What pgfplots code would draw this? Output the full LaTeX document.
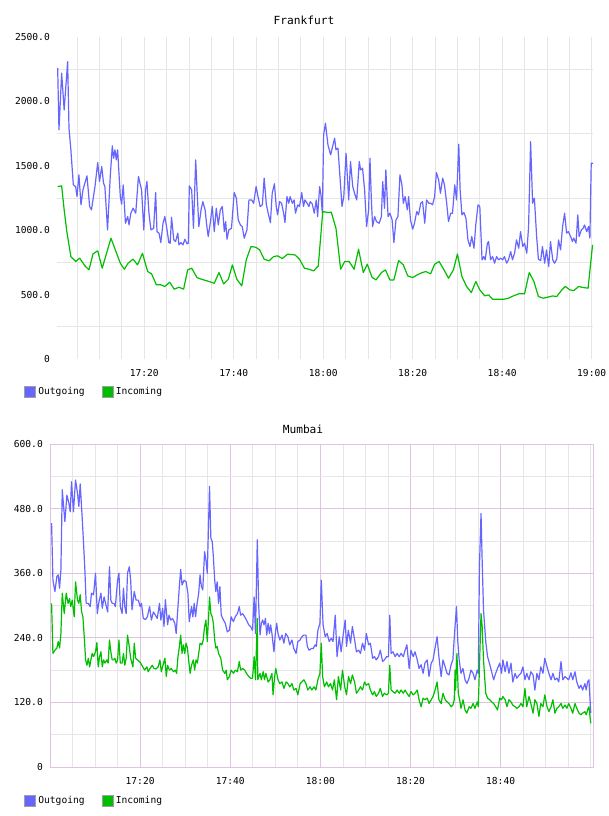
\documentclass[border=0pt]{standalone}
\usepackage{fontspec}
\setmainfont{DejaVu Sans Mono}
\usepackage{pgfplots}
\pgfplotsset{compat=1.18}

\definecolor{outc}{RGB}{102,102,255}
\definecolor{inc}{RGB}{0,190,0}
\definecolor{gridg}{RGB}{230,230,230}
\definecolor{gridp}{RGB}{222,196,222}

\pgfplotsset{
  trafficbase/.style={
    scale only axis,
    font=\fontsize{9.6}{11}\selectfont,
    major tick length=0pt, minor tick length=0pt,
    yticklabel style={inner sep=0pt, xshift=-7pt, anchor=east},
    xticklabel style={inner sep=0pt, yshift=-10pt, anchor=north},
    /pgf/number format/assume math mode=true,
    legend columns=2,
    legend cell align=left,
    legend style={draw=none, fill=none, inner sep=0pt,
      font=\fontsize{9.6}{11}\selectfont,
      /tikz/every even column/.append style={column sep=15pt}},
    legend image code/.code={
      \fill[##1] (0pt,-5.5pt) rectangle (11pt,5.5pt);
      \draw[gray!75, line width=0.8pt] (0pt,-5.5pt) rectangle (11pt,5.5pt);},
    every axis plot/.append style={line width=1.2pt, line join=round},
  },
}

\begin{document}
\begin{tikzpicture}
\path[use as bounding box] (0pt,0pt) rectangle (608pt,-816pt);

% ---------------- Frankfurt ----------------
\node[font=\fontsize{11.2}{13}\selectfont] at (304pt,-20pt) {Frankfurt};
\begin{axis}[trafficbase,
  at={(57pt,-359pt)}, anchor=south west, width=536pt, height=322pt,
  xmin=0.5, xmax=120.3, ymin=0, ymax=2500,
  axis line style={draw=none},
  xtick={20,40,60,80,100,120},
  xticklabels={17:20,17:40,18:00,18:20,18:40,19:00},
  minor xtick={5,10,...,115},
  ytick={0,500,...,2500},
  yticklabels={0,500.0,1000.0,1500.0,2000.0,2500.0},
  minor ytick={250,750,1250,1750,2250},
  xmajorgrids, xminorgrids, yminorgrids,
  major grid style={gridg, line width=0.8pt},
  minor grid style={gridg, line width=0.8pt},
  legend style={at={(axis description cs:-0.0616,-0.1025)}, anchor=west},
]
\addplot[color=outc] coordinates {
(0.65,2258)(0.94,1779)(1.54,2219)(2.1,1934)(2.88,2309)(3.18,1792)(3.6,1624)(4.15,1352)(4.67,1339)(4.97,1261)
(5.4,1430)(5.86,1197)(6.3,1313)(7.2,1422)(7.8,1184)(8.2,1158)(8.99,1339)(9.6,1525)(10,1378)(10.5,1494)
(10.9,1365)(11.2,1339)(11.8,1002)(12.4,1417)(12.86,1655)(13.16,1559)(13.46,1624)(13.75,1546)(14.05,1624)(14.65,1261)
(14.95,1202)(15.3,1352)(15.8,1054)(16.3,1106)(16.6,1041)(17,1132)(17.5,1171)(18.1,1132)(18.7,1417)(19.4,1313)
(19.9,1002)(20.3,1313)(20.6,1378)(21.05,1132)(21.5,1002)(22.1,1015)(22.55,1292)(22.85,989)(23.3,977)(23.7,904)
(24.2,1054)(24.6,1106)(25.1,1002)(25.5,904)(25.8,899)(26.1,1101)(26.6,925)(27,912)(27.5,977)(27.75,886)
(28.2,904)(28.65,886)(29.1,930)(29.55,894)(29.85,899)(30.07,1344)(30.6,1313)(31,1015)(31.5,1546)(31.8,1313)
(32.2,1028)(32.7,1158)(33.1,1222)(33.6,1158)(34,1028)(34.3,951)(34.8,1067)(35.2,1184)(35.65,989)(36.1,1171)
(36.55,1041)(37,1158)(37.45,1184)(37.9,989)(38.2,1067)(38.5,930)(38.9,1002)(39.5,1015)(40.1,1292)(40.6,1248)
(41,1080)(41.5,1041)(41.9,1028)(42.35,938)(42.95,1002)(43.4,1235)(44,1235)(44.45,1209)(45,1339)(45.5,1248)
(45.9,1184)(46.4,1197)(46.8,1404)(47.3,1197)(47.7,1132)(48.2,1059)(48.6,1287)(49.1,1360)(49.5,1184)(49.8,1119)
(50.25,1222)(50.7,1209)(51.15,1132)(51.45,1059)(51.9,1261)(52.3,1209)(52.6,1261)(53.1,1209)(53.5,1235)(53.8,1132)
(54.3,1197)(54.7,1184)(55.2,1292)(55.6,1184)(55.9,1235)(56.4,1209)(56.8,1184)(57.1,1222)(57.55,1204)(58,1132)
(58.45,1235)(58.75,1106)(59.2,1339)(59.5,1274)(59.8,1132)(60.1,1740)(60.5,1831)(61.06,1662)(61.66,1585)(62.1,1650)
(62.55,1714)(62.85,1624)(63.3,1637)(63.74,1417)(64.2,1184)(64.6,1261)(65.1,1598)(65.7,1235)(66.1,1533)(66.6,1339)
(67,1287)(67.5,1235)(68.06,1533)(68.36,1468)(68.8,1481)(69.25,1313)(69.7,1028)(70.15,1158)(70.45,1559)(70.75,1248)
(71.04,1028)(71.5,1106)(71.9,1067)(72.5,1054)(73,1106)(73.3,1378)(73.7,1171)(74,1468)(74.5,1106)(74.9,1132)
(75.4,1080)(75.8,904)(76.26,1080)(76.7,1106)(77.15,1430)(77.6,1352)(77.9,1209)(78.3,1261)(78.8,1158)(79.1,1261)
(79.5,1080)(80,1008)(80.4,1054)(80.9,1145)(81.3,1119)(81.8,1209)(82.2,1222)(82.7,1054)(83.1,1235)(83.6,1209)
(84,1209)(84.45,1197)(84.9,1261)(85.3,1448)(85.8,1391)(86.2,1287)(86.7,1404)(87.1,1352)(87.6,1209)(88,1067)
(88.5,1132)(88.9,1132)(89.4,1352)(89.8,1235)(90.3,1668)(90.6,1313)(91,1119)(91.45,1137)(91.9,1093)(92.35,925)
(92.8,873)(93.2,951)(93.7,860)(94.1,1041)(94.6,1197)(95,1184)(95.5,770)(95.9,795)(96.2,770)(96.7,899)
(96.96,912)(97.4,770)(97.86,795)(98.3,744)(98.75,795)(99.2,770)(99.65,783)(100.1,770)(100.5,795)(101,744)
(101.4,770)(101.9,834)(102.3,770)(102.8,827)(103.2,925)(103.7,860)(104.1,989)(104.6,873)(105,899)(105.5,821)
(105.9,1028)(106.35,1688)(106.8,1209)(107.2,1248)(107.7,951)(108.1,775)(108.6,764)(109,873)(109.5,744)(109.9,847)
(110.4,718)(110.8,912)(111.3,770)(111.7,744)(112.2,775)(112.6,925)(113.05,847)(113.5,1028)(113.95,1132)(114.4,977)
(114.8,989)(115.3,951)(115.7,912)(116,938)(116.5,899)(116.9,1119)(117.2,951)(117.7,1002)(118.1,1015)(118.4,1041)
(118.9,989)(119.3,1028)(119.6,938)(119.9,1520)(120.3,1520)
};
\addlegendentry{Outgoing}
\addplot[color=inc] coordinates {
(0.65,1339)(1.54,1344)(2.1,1158)(2.7,989)(3.6,795)(4.67,757)(5.56,783)(6.75,723)(7.65,692)(8.54,816)
(9.6,840)(10.6,705)(12.56,938)(14.65,744)(15.55,697)(16.4,744)(17.5,775)(18.5,731)(19.6,821)(20.76,679)
(21.65,661)(22.7,576)(23.7,576)(24.6,563)(25.7,596)(26.7,542)(27.76,557)(28.8,542)(29.7,692)(30.6,705)
(31.8,632)(32.8,619)(34,607)(35.65,588)(36.7,671)(37.75,583)(38.8,619)(39.7,731)(40.7,619)(41.8,568)
(42.8,770)(43.85,873)(44.9,868)(45.8,847)(46.8,775)(47.9,762)(48.9,795)(49.8,801)(50.85,780)(52.05,814)
(53.7,808)(54.7,775)(55.8,705)(56.8,697)(57.85,684)(58.9,723)(59.9,1145)(61.1,1137)(61.8,1140)(62.85,1015)
(63.9,697)(64.8,757)(65.8,757)(66.9,697)(67.9,852)(68.96,671)(69.85,736)(70.9,635)(71.8,614)(73,671)
(73.9,692)(74.9,614)(75.8,614)(76.85,764)(77.9,731)(78.9,645)(80,632)(81,653)(82.1,671)(82.96,679)
(84,661)(84.9,736)(85.9,757)(87,692)(88,627)(89.1,692)(90,816)(91,640)(92.05,563)(93.1,516)
(94.1,601)(95,537)(96.1,490)(96.96,498)(97.86,464)(99.2,464)(100.4,464)(101.4,472)(102.5,490)(103.67,506)
(105,506)(106.05,671)(107.1,601)(108.1,485)(109.2,472)(110.2,480)(111.27,490)(112.2,485)(113.2,531)(114.1,563)
(115.1,537)(116,531)(117.1,563)(118.1,555)(119.2,550)(120.2,886)
};
\addlegendentry{Incoming}
\end{axis}

% ---------------- Mumbai ----------------
\node[font=\fontsize{11.2}{13}\selectfont] at (303pt,-429pt) {Mumbai};
\begin{axis}[trafficbase,
  at={(50pt,-767pt)}, anchor=south west, width=543pt, height=323pt,
  xmin=0, xmax=120.5, ymin=0, ymax=600,
  axis line style={gridp, line width=0.8pt},
  xtick={20,40,60,80,100},
  xticklabels={17:20,17:40,18:00,18:20,18:40},
  minor xtick={5,10,15,25,30,35,45,50,55,65,70,75,85,90,95,105,110,115,120},
  ytick={0,120,...,600},
  yticklabels={0,120.0,240.0,360.0,480.0,600.0},
  minor ytick={60,180,300,420,540},
  xmajorgrids, xminorgrids, ymajorgrids, yminorgrids,
  major grid style={gridp, line width=0.8pt},
  minor grid style={gridg, line width=0.8pt},
  legend style={at={(axis description cs:-0.0479,-0.1053)}, anchor=west},
]
\addplot[color=outc] coordinates {
(0.35,453)(0.65,347)(1.09,326)(1.53,354)(1.83,357)(2.12,332)(2.42,366)(2.72,515)(3.3,456)(3.75,505)
(4.19,490)(4.49,474)(4.78,530)(5.2,474)(5.67,533)(6.11,508)(6.41,484)(6.7,526)(7.15,462)(7.44,416)
(7.74,366)(8.03,304)(8.48,304)(8.92,298)(9.2,323)(9.66,320)(10.1,360)(10.5,285)(10.8,304)(11.3,323)
(11.6,295)(12,316)(12.5,298)(12.8,288)(13.2,372)(13.5,310)(13.8,304)(14.2,304)(14.5,298)(15,347)
(15.3,360)(15.6,298)(16,285)(16.3,332)(16.6,298)(16.9,285)(17.2,360)(17.6,372)(17.9,347)(18.2,292)
(18.7,326)(19.1,310)(19.6,310)(20,298)(20.3,304)(20.7,276)(21.2,274)(21.6,279)(22.1,298)(22.5,273)
(22.95,288)(23.4,282)(23.8,276)(24.3,304)(24.6,273)(25,295)(25.3,261)(25.6,311)(26.1,264)(26.4,282)
(26.8,273)(27.2,276)(27.7,267)(28,248)(28.4,298)(28.7,335)(29,367)(29.3,338)(29.75,347)(30.2,344)
(30.6,323)(30.9,270)(31.4,298)(31.7,279)(32,304)(32.3,279)(32.6,301)(33,323)(33.3,357)(33.6,335)
(33.9,329)(34.3,400)(34.6,385)(34.9,360)(35.4,521)(35.7,425)(36,419)(36.25,391)(36.55,347)(36.8,326)
(37.1,344)(37.4,304)(37.7,335)(38,282)(38.5,273)(38.9,267)(39.35,251)(39.8,254)(40.2,279)(40.7,270)
(41.1,279)(41.6,285)(42,298)(42.3,282)(42.75,285)(43.2,279)(43.6,273)(44.1,264)(44.5,261)(44.95,254)
(45.3,316)(45.6,248)(46,422)(46.3,304)(46.6,245)(46.9,267)(47.2,273)(47.5,264)(47.8,276)(48.1,245)
(48.4,267)(48.7,248)(48.96,264)(49.25,248)(49.7,214)(50,248)(50.3,267)(50.6,248)(51,236)(51.5,245)
(51.9,230)(52.3,248)(52.8,242)(53.2,227)(53.7,236)(54.1,220)(54.6,211)(55,233)(55.5,236)(55.9,242)
(56.3,245)(56.8,245)(57.1,224)(57.5,217)(58,220)(58.4,220)(58.85,227)(59.1,224)(59.45,254)(59.9,267)
(60.2,347)(60.6,264)(61.07,242)(61.5,248)(61.96,233)(62.4,239)(62.8,233)(63.3,282)(63.7,205)(64.2,242)
(64.6,214)(65.1,248)(65.5,273)(65.8,224)(66.2,254)(66.7,230)(67.1,261)(67.6,236)(68,214)(68.5,217)
(68.9,211)(69.35,230)(69.8,217)(70.2,248)(70.7,227)(71.1,230)(71.6,202)(72,205)(72.4,199)(72.9,205)
(73.3,217)(73.8,196)(74.2,199)(74.7,205)(75.1,205)(75.4,282)(75.7,211)(76.1,214)(76.6,205)(77,211)
(77.5,205)(77.9,211)(78.4,205)(78.8,217)(79.2,227)(79.7,183)(80.1,217)(80.6,205)(81,214)(81.5,199)
(81.9,183)(82.35,190)(82.8,174)(83.2,193)(83.7,199)(84.1,168)(84.6,193)(85,199)(85.45,221)(85.9,242)
(86.3,205)(86.8,168)(87.2,199)(87.7,186)(88.1,174)(88.55,171)(89,190)(89.4,199)(89.7,239)(90.2,298)
(90.5,233)(90.8,199)(91.2,174)(91.65,183)(92.1,162)(92.5,155)(93,165)(93.4,180)(93.9,174)(94.3,162)
(94.8,180)(95.05,174)(95.3,372)(95.65,471)(95.9,385)(96.2,292)(96.7,233)(97.1,205)(97.6,190)(98,177)
(98.45,162)(98.9,174)(99.3,183)(99.8,193)(100.2,174)(100.5,199)(101,177)(101.4,196)(101.85,174)(102.3,193)
(102.7,158)(103.2,174)(103.6,165)(104.1,171)(104.5,174)(104.95,186)(105.4,162)(105.8,174)(106.3,162)(106.7,177)
(107.2,171)(107.6,143)(108.05,174)(108.5,162)(108.9,186)(109.4,174)(109.8,202)(110.3,186)(110.7,174)(111.2,162)
(111.6,174)(112.05,162)(112.5,165)(112.9,158)(113.4,196)(113.8,162)(114.3,168)(114.7,165)(115.1,162)(115.6,175)
(116,162)(116.5,177)(116.9,158)(117.4,146)(117.8,152)(118.2,143)(118.7,155)(119,143)(119.3,158)(119.6,162)
(120,100)
};
\addlegendentry{Outgoing}
\addplot[color=inc] coordinates {
(0.35,304)(0.65,211)(1.09,217)(1.53,221)(1.83,233)(2.12,221)(2.42,248)(2.72,323)(3.16,285)(3.6,323)
(4,304)(4.34,313)(4.6,298)(4.93,310)(5.37,279)(5.67,344)(6.1,310)(6.4,304)(6.7,320)(7,289)
(7.3,279)(7.6,242)(7.9,199)(8.2,189)(8.5,202)(8.8,186)(9.07,199)(9.36,211)(9.66,205)(10.1,214)
(10.4,231)(10.7,186)(11,205)(11.3,214)(11.6,186)(11.9,199)(12.2,193)(12.6,199)(12.9,193)(13.2,236)
(13.5,214)(13.8,199)(14.1,199)(14.4,202)(14.7,193)(15,199)(15.3,236)(15.6,193)(16,193)(16.3,211)
(16.6,189)(16.9,202)(17.2,245)(17.6,223)(17.9,202)(18.4,186)(18.7,230)(19,202)(19.4,199)(19.85,196)
(20.1,193)(20.6,186)(21,180)(21.5,186)(21.8,177)(22.2,183)(22.7,189)(23.1,183)(23.5,182)(24,186)
(24.4,199)(24.7,177)(25.2,193)(25.5,202)(25.8,168)(26.1,189)(26.5,180)(26.9,183)(27.4,177)(27.8,180)
(28.1,174)(28.4,205)(28.7,223)(29,245)(29.3,211)(29.6,227)(29.9,211)(30.2,230)(30.5,221)(30.8,196)
(31.1,174)(31.4,189)(31.8,199)(32.1,180)(32.4,199)(32.7,193)(33,211)(33.3,230)(33.7,227)(34,236)
(34.3,261)(34.6,273)(34.9,233)(35.2,279)(35.4,316)(35.7,285)(36,279)(36.25,267)(36.55,236)(36.8,221)
(37.1,224)(37.4,211)(37.9,202)(38.3,180)(38.8,174)(39.1,180)(39.35,162)(39.8,168)(40.2,180)(40.7,174)
(41.1,180)(41.6,177)(42,196)(42.3,180)(42.75,183)(43.2,180)(43.6,174)(44.1,168)(44.5,165)(44.95,165)
(45.3,205)(45.6,162)(46,276)(46.1,162)(46.6,174)(46.9,162)(47.3,177)(47.6,162)(47.9,174)(48.4,158)
(48.8,162)(49.25,174)(49.5,134)(49.85,168)(50.1,183)(50.6,162)(51,155)(51.5,158)(51.9,146)(52.4,158)
(52.8,155)(53.2,149)(53.7,155)(54.1,143)(54.6,146)(55,134)(55.5,155)(55.9,158)(56.35,162)(56.8,155)
(57.2,143)(57.7,149)(58.1,143)(58.6,149)(59,143)(59.45,162)(59.9,174)(60.2,230)(60.5,168)(60.9,149)
(61.4,158)(61.8,149)(62.25,155)(62.7,143)(63.1,162)(63.6,125)(64,168)(64.5,143)(64.9,180)(65.4,149)
(65.8,134)(66.24,168)(66.7,155)(67.1,171)(67.6,158)(68,137)(68.5,143)(68.9,149)(69.35,143)(69.8,158)
(70.2,152)(70.7,155)(71.1,143)(71.6,134)(72,140)(72.4,131)(72.9,137)(73.3,146)(73.8,131)(74.2,137)
(74.7,134)(75.1,137)(75.4,189)(75.7,143)(76.1,140)(76.6,137)(77,143)(77.5,137)(77.9,143)(78.4,137)
(78.8,143)(79.2,137)(79.7,131)(80.1,140)(80.6,134)(81,137)(81.5,143)(81.9,125)(82.35,112)(82.8,128)
(83.2,125)(83.7,128)(84.1,118)(84.6,125)(85,131)(85.45,143)(85.9,158)(86.3,125)(86.8,118)(87.2,137)
(87.7,125)(88.1,121)(88.55,118)(89,112)(89.4,115)(89.7,125)(89.9,180)(90,143)(90.3,211)(90.6,137)
(90.9,125)(91.2,109)(91.65,125)(92.1,106)(92.5,100)(93,112)(93.4,109)(93.9,118)(94.3,109)(94.8,121)
(95.05,112)(95.3,186)(95.65,285)(95.9,261)(96.2,199)(96.7,137)(97.1,128)(97.6,125)(98,121)(98.45,118)
(98.9,112)(99.3,106)(99.8,128)(100.2,125)(100.5,131)(101,125)(101.4,112)(101.85,125)(102.3,121)(102.7,115)
(103.2,112)(103.6,109)(104.1,112)(104.5,118)(104.95,112)(105.4,146)(105.8,112)(106.3,131)(106.7,118)(107.2,100)
(107.6,125)(108.05,118)(108.5,94)(108.9,118)(109.4,112)(109.8,134)(110.3,112)(110.7,103)(111.2,112)(111.6,125)
(112.05,100)(112.5,109)(112.9,112)(113.4,118)(113.8,109)(114.3,115)(114.7,109)(115.1,118)(115.6,109)(116,100)
(116.5,118)(116.9,109)(117.4,100)(117.8,97)(118.2,100)(118.7,103)(119,97)(119.3,106)(119.6,112)(120,81)
};
\addlegendentry{Incoming}
\end{axis}
\end{tikzpicture}
\end{document}
